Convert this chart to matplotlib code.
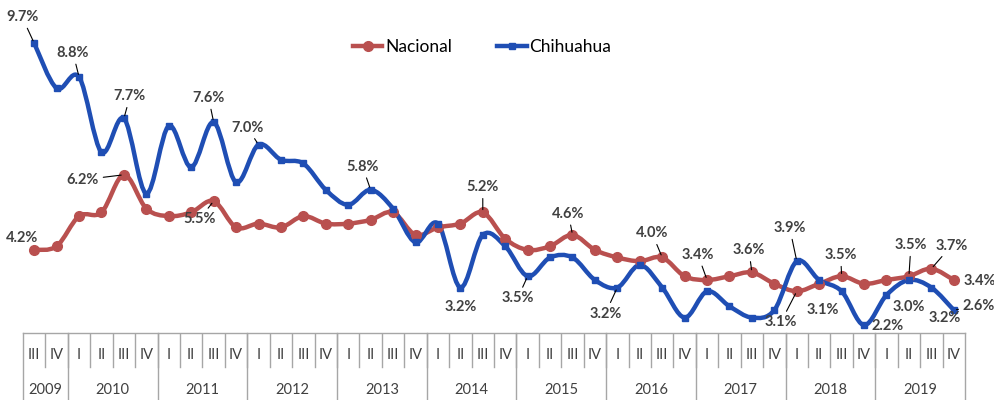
import matplotlib
matplotlib.use("Agg")
import matplotlib.pyplot as plt
import numpy as np
from matplotlib.path import Path
from matplotlib.patches import PathPatch
from matplotlib.lines import Line2D

# ---------------- data ----------------
quarters = ['III', 'IV'] + ['I', 'II', 'III', 'IV'] * 10
years = ['2009', '2010', '2011', '2012', '2013', '2014', '2015', '2016', '2017', '2018', '2019']
quarters_per_year = [2, 4, 4, 4, 4, 4, 4, 4, 4, 4, 4]

nacional = [4.2, 4.3, 5.1, 5.2, 6.2, 5.3, 5.1, 5.2, 5.5, 4.8, 4.9, 4.8, 5.1, 4.9,
            4.9, 5.0, 5.2, 4.6, 4.8, 4.9, 5.2, 4.5, 4.2, 4.3, 4.6, 4.2, 4.0, 3.9,
            4.0, 3.5, 3.4, 3.5, 3.6, 3.3, 3.1, 3.3, 3.5, 3.3, 3.4, 3.5, 3.7, 3.4]
chihuahua = [9.7, 8.5, 8.8, 6.8, 7.7, 5.7, 7.5, 6.4, 7.6, 6.0, 7.0, 6.6, 6.5, 5.8,
             5.4, 5.8, 5.3, 4.4, 4.9, 3.2, 4.6, 4.3, 3.5, 4.0, 4.0, 3.4, 3.2, 3.8,
             3.2, 2.4, 3.1, 2.7, 2.4, 2.6, 3.9, 3.4, 3.1, 2.2, 3.0, 3.4, 3.2, 2.6]

# labels: (index, dx px, dy px, leader)
labels_nac = [(0, -12, 12, False), (4, -41, -5, True), (8, -14, -18, True),
              (20, 0, 25, True), (24, -4, 21, True), (28, -10, 24, True),
              (30, -9, 25, True), (32, -3, 22, True), (34, -16, -31, True),
              (36, -1, 21, True), (39, 2, 31, True), (40, 20, 23, True),
              (41, 26, -1, False)]
labels_chi = [(0, -12, 26, True), (2, -6, 24, True), (4, 6, 22, True),
              (8, -5, 24, True), (10, -11, 17, True), (15, -8, 23, True),
              (19, 0, -19, False), (22, -10, -22, True), (26, -12, -26, True),
              (34, -7, 33, True), (36, -19, -19, False), (37, 24, -1, False),
              (38, 22, -12, False), (40, 13, -30, False), (41, 25, 4, True)]

RED = '#B9504F'
BLUE = '#1F4EB4'
TXT = '#404040'
GRID = '#A6A6A6'
FONT = 'Lato'

W, H = 995, 400
fig = plt.figure(figsize=(W / 100, H / 100), dpi=100)
left, right, top_tab = 23, 965, 333
ax = fig.add_axes([left / W, (H - top_tab) / H, (right - left) / W, top_tab / H])
ax.set_xlim(-0.5, len(quarters) - 0.5)
ax.set_ylim(1.99, 10.85)
ax.axis('off')


def smooth_path(xs, ys):
    pts = np.column_stack([xs, ys]).astype(float)
    n = len(pts)
    verts = [pts[0]]
    codes = [Path.MOVETO]
    for i in range(n - 1):
        p0 = pts[i - 1] if i > 0 else pts[i]
        p1 = pts[i]
        p2 = pts[i + 1]
        p3 = pts[i + 2] if i + 2 < n else pts[i + 1]
        c1 = p1 + (p2 - p0) / 6.0
        c2 = p2 - (p3 - p1) / 6.0
        verts += [c1, c2, p2]
        codes += [Path.CURVE4] * 3
    return Path(verts, codes)


x = np.arange(len(quarters))
for vals, col, mk, ms in [(nacional, RED, 'o', 7), (chihuahua, BLUE, 's', 5)]:
    ax.add_patch(PathPatch(smooth_path(x, vals), facecolor='none', edgecolor=col,
                           lw=3.2, capstyle='round', joinstyle='round', zorder=3))
    ax.plot(x, vals, linestyle='none', marker=mk, ms=ms, color=col, zorder=4)

for vals, labs in [(nacional, labels_nac), (chihuahua, labels_chi)]:
    for idx, dx, dy, lead in labs:
        kw = {}
        if lead:
            kw['arrowprops'] = dict(arrowstyle='-', color='black', lw=0.8,
                                    shrinkA=1, shrinkB=2)
        ax.annotate(f"{vals[idx]:.1f}%", xy=(idx, vals[idx]), xytext=(dx, dy),
                    textcoords='offset pixels', ha='center', va='center',
                    fontsize=10.5, fontweight='bold', color=TXT, family=FONT,
                    annotation_clip=False, zorder=6, **kw)

handles = [Line2D([], [], color=RED, lw=3.2, marker='o', ms=7),
           Line2D([], [], color=BLUE, lw=3.2, marker='s', ms=5)]
fig.legend(handles, ['Nacional', 'Chihuahua'], loc='center',
           bbox_to_anchor=(482 / W, (H - 47) / H), ncol=2, frameon=False,
           prop={'family': FONT, 'size': 12.5}, handlelength=1.7,
           handletextpad=0.15, columnspacing=2.6)

# ---------------- category table ----------------
tab = fig.add_axes([left / W, 0, (right - left) / W, (H - top_tab) / H])
tab.set_xlim(-0.5, len(quarters) - 0.5)
tab.set_ylim(0, H - top_tab)
tab.axis('off')
th = H - top_tab
tab.plot([-0.5, len(quarters) - 0.5], [th, th], color=GRID, lw=1, clip_on=False)
for i, q in enumerate(quarters):
    tab.text(i, th - 22, q, ha='center', va='center', fontsize=10.5, color=TXT,
             family=FONT)
    if i < len(quarters) - 1:
        tab.plot([i + 0.5, i + 0.5], [th, th - 34], color=GRID, lw=1)
start = -0.5
tab.plot([start, start], [th, 0], color=GRID, lw=1, clip_on=False)
for y, n in zip(years, quarters_per_year):
    end = start + n
    tab.plot([end, end], [th, 0], color=GRID, lw=1, clip_on=False)
    tab.text((start + end) / 2, 10, y, ha='center', va='center', fontsize=10.5,
             color=TXT, family=FONT)
    start = end

fig.savefig('out.png', dpi=100)
